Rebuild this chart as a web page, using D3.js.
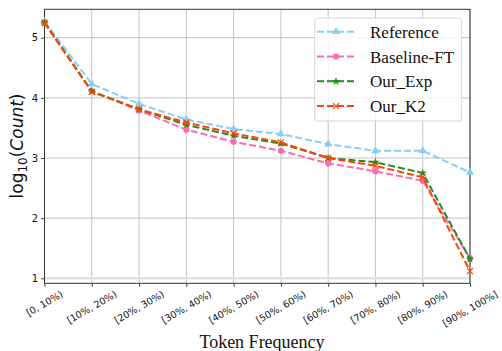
<!DOCTYPE html>
<html>
<head>
<meta charset="utf-8">
<script src="https://cdn.jsdelivr.net/npm/d3@7"></script>
<style>
  body { margin: 0; background: #fff; }
  svg { display: block; }
</style>
</head>
<body>
<div id="chart"></div>
<script>
// values (log10 counts per frequency bucket)
var categories = ["[0, 10%)", "[10%, 20%)", "[20%, 30%)", "[30%, 40%)", "[40%, 50%)",
    "[50%, 60%)", "[60%, 70%)", "[70%, 80%)", "[80%, 90%)", "[90%, 100%]"]
var referenceVals = [5.27, 4.23, 3.90, 3.64, 3.48, 3.40, 3.23, 3.12, 3.12, 2.76]
var baselineVals = [5.25, 4.11, 3.79, 3.47, 3.27, 3.12, 2.91, 2.78, 2.62, 1.33]
var expVals = [5.25, 4.11, 3.81, 3.55, 3.37, 3.24, 3.00, 2.93, 2.75, 1.32]
var k2Vals = [5.25, 4.10, 3.81, 3.59, 3.41, 3.26, 3.00, 2.87, 2.68, 1.12]
var yTicks = [1, 2, 3, 4, 5]

var seriesNames = ["Reference", "Baseline-FT", "Our_Exp", "Our_K2"]
var seriesVals = [referenceVals, baselineVals, expVals, k2Vals]
var seriesColors = ["#87CEFA", "#FF69B4", "#228B22", "#FF4500"]
var seriesMarkers = ["triangle", "circle", "star", "x"]

var W = 502, H = 351
var pLeft = 44.5, pRight = 470, pTop = 9.3, pBottom = 283.3

var svg = d3.select("#chart").append("svg")
    .attr("width", W)
    .attr("height", H)

var x = d3.scalePoint()
    .domain(categories)
    .range([pLeft, pRight])
    .padding(0)

var y = d3.scaleLinear()
    .domain([0.917, 5.472])
    .range([pBottom, pTop])

// grid
var grid = svg.append("g")
grid.selectAll("line.v")
    .data(categories)
    .enter().append("line")
    .attr("x1", function (d) { return x(d) }).attr("x2", function (d) { return x(d) })
    .attr("y1", pTop).attr("y2", pBottom)
    .attr("stroke", "#c4c4c4").attr("stroke-width", 1)
grid.selectAll("line.h")
    .data(yTicks)
    .enter().append("line")
    .attr("x1", pLeft).attr("x2", pRight)
    .attr("y1", function (d) { return y(d) }).attr("y2", function (d) { return y(d) })
    .attr("stroke", function (d) { return d == 1 ? "#e2e2e2" : "#c4c4c4" })
    .attr("stroke-width", function (d) { return d == 1 ? 2.5 : 1 })

// axes
var yAxis = svg.append("g")
    .attr("transform", "translate(" + pLeft + ",0)")
    .call(d3.axisLeft(y).tickValues(yTicks).tickFormat(d3.format("d"))
        .tickSize(3.5).tickPadding(3).tickSizeOuter(0))
var xAxis = svg.append("g")
    .attr("transform", "translate(0," + pBottom + ")")
    .call(d3.axisBottom(x).tickSize(3.5).tickSizeOuter(0).tickFormat(""))

svg.selectAll(".domain").remove()
svg.selectAll(".tick line").attr("stroke", "#333").attr("stroke-width", 0.9)
yAxis.selectAll("text")
    .attr("font-family", "DejaVu Sans").attr("font-size", "10px").attr("fill", "#111")

// rotated x tick labels, centered under tick
var xl = svg.append("g")
categories.forEach(function (c) {
    var t = xl.append("text")
        .attr("font-family", "DejaVu Sans")
        .attr("font-size", "9.5px")
        .attr("fill", "#111")
        .attr("text-anchor", "middle")
        .attr("dominant-baseline", "central")
        .text(c)
    var w = t.node().getComputedTextLength()
    var h = 11
    var cy = pBottom + 5 + (w * 0.5 + h * 0.866) / 2
    t.attr("transform", "translate(" + x(c) + "," + cy + ") rotate(-30)")
})

// frame
svg.append("rect")
    .attr("x", pLeft).attr("y", pTop)
    .attr("width", pRight - pLeft).attr("height", pBottom - pTop)
    .attr("fill", "none").attr("stroke", "#333").attr("stroke-width", 1)

// marker drawing
function marker(g, type, cx, cy, color) {
    if (type == "x") {
        var s = 3
        g.append("path")
            .attr("d", "M" + (cx - s) + "," + (cy - s) + "L" + (cx + s) + "," + (cy + s) +
                "M" + (cx - s) + "," + (cy + s) + "L" + (cx + s) + "," + (cy - s))
            .attr("stroke", color).attr("stroke-width", 1.2).attr("fill", "none")
        return
    }
    var sym = type == "triangle" ? d3.symbolTriangle : type == "circle" ? d3.symbolCircle : d3.symbolStar
    var size = type == "triangle" ? 30 : type == "circle" ? 30 : 22
    g.append("path")
        .attr("d", d3.symbol().type(sym).size(size)())
        .attr("transform", "translate(" + cx + "," + cy + ")")
        .attr("fill", color)
}

var line = d3.line()
    .x(function (d, i) { return x(categories[i]) })
    .y(function (d) { return y(d) })

seriesVals.forEach(function (vals, k) {
    var g = svg.append("g")
    g.append("path")
        .datum(vals)
        .attr("d", line)
        .attr("fill", "none")
        .attr("stroke", seriesColors[k])
        .attr("stroke-width", 2)
        .attr("stroke-dasharray", "7,3")
    vals.forEach(function (v, i) {
        marker(g, seriesMarkers[k], x(categories[i]), y(v), seriesColors[k])
    })
})

// legend
var lg = svg.append("g")
lg.append("rect")
    .attr("x", 314.7).attr("y", 18)
    .attr("width", 147).attr("height", 103)
    .attr("rx", 3)
    .attr("fill", "#fff").attr("fill-opacity", 0.8)
    .attr("stroke", "#d6d6d6").attr("stroke-width", 1)
seriesNames.forEach(function (name, k) {
    var ly = 31.7 + k * 24.8
    lg.append("line")
        .attr("x1", 317).attr("x2", 355)
        .attr("y1", ly).attr("y2", ly)
        .attr("stroke", seriesColors[k])
        .attr("stroke-width", 2)
        .attr("stroke-dasharray", "7,3")
    marker(lg, seriesMarkers[k], 336, ly, seriesColors[k])
    lg.append("text")
        .attr("x", 370).attr("y", ly + 6)
        .attr("font-family", "Liberation Serif")
        .attr("font-size", "17px")
        .attr("fill", "#111")
        .text(name)
})

// axis titles
svg.append("text")
    .attr("x", 262).attr("y", 348)
    .attr("text-anchor", "middle")
    .attr("font-family", "Liberation Serif")
    .attr("font-size", "18px")
    .attr("fill", "#111")
    .text("Token Frequency")

var yt = svg.append("text")
    .attr("transform", "translate(23,146) rotate(-90)")
    .attr("text-anchor", "middle")
    .attr("font-family", "DejaVu Sans")
    .attr("font-size", "17px")
    .attr("fill", "#111")
yt.append("tspan").text("log")
yt.append("tspan").attr("font-size", "12px").attr("dy", 4).text("10")
yt.append("tspan").attr("dy", -4).text("(")
yt.append("tspan").attr("font-style", "italic").text("Count")
yt.append("tspan").text(")")
</script>
</body>
</html>
